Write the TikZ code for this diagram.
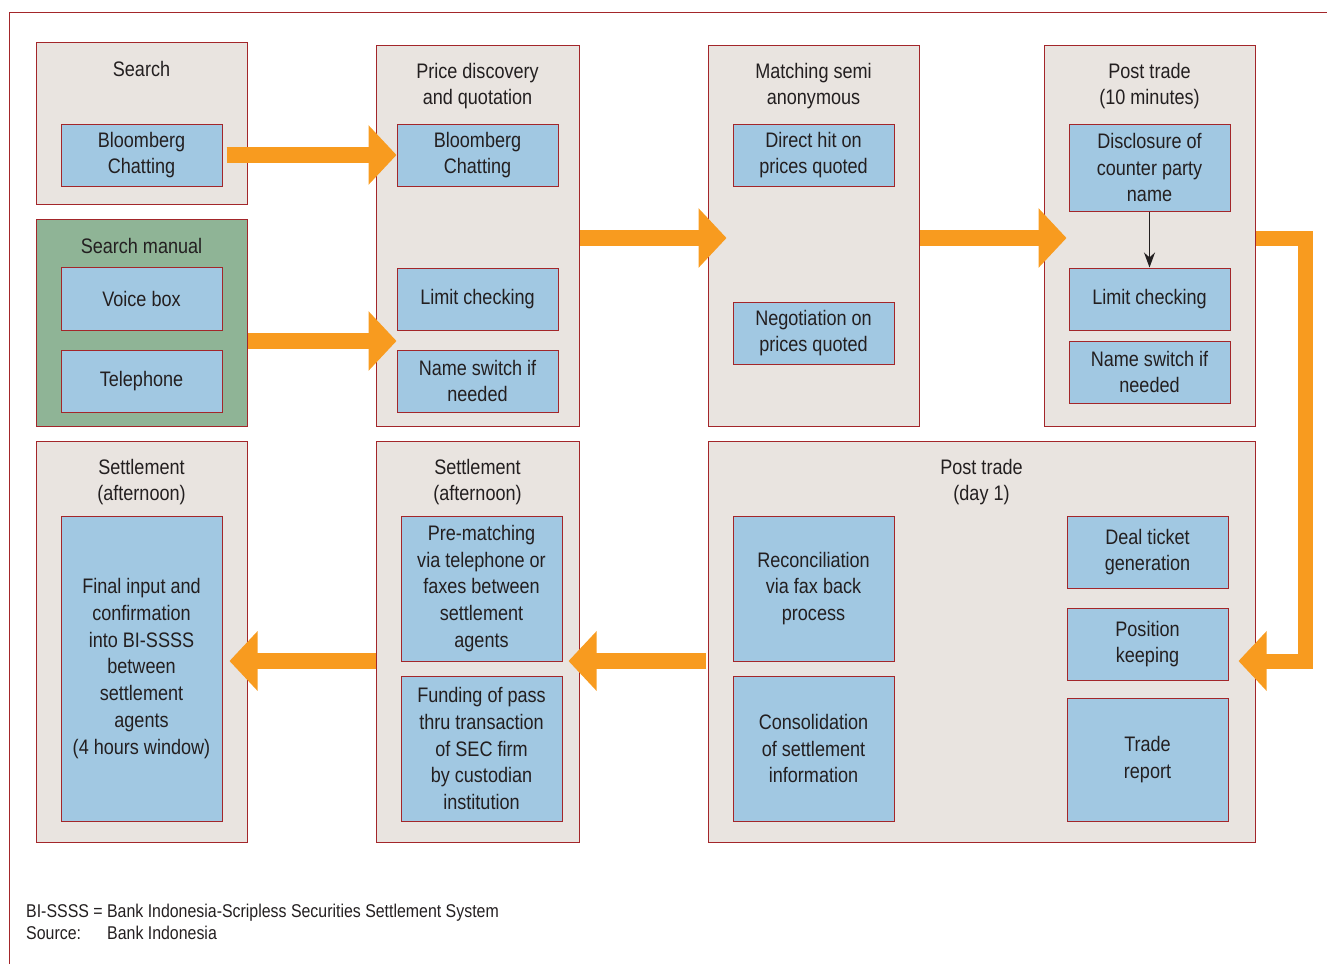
\documentclass[tikz,border=0pt]{standalone}
\usepackage{fontspec}
\setmainfont{Liberation Sans}[FakeStretch=0.86]
\usetikzlibrary{arrows.meta}

\definecolor{frame}{HTML}{A3262A}
\definecolor{beige}{HTML}{E9E4E0}
\definecolor{skyblue}{HTML}{A1C8E2}
\definecolor{sage}{HTML}{8FB496}
\definecolor{flow}{HTML}{F89B1F}
\definecolor{ink}{HTML}{231F20}

\tikzset{
  stage/.style={draw=frame, fill=beige, line width=1pt, anchor=north west, inner sep=0pt},
  task/.style={draw=frame, fill=skyblue, line width=1pt, minimum width=161pt, align=center,
    text=ink, inner sep=0pt, font=\fontsize{21}{26.8}\selectfont},
  title/.style={align=center, text=ink, font=\fontsize{21}{26.8}\selectfont},
  bigarrow/.style={flow, line width=16pt, -{Triangle[width=58pt,length=28pt]}},
  note/.style={anchor=base west, text=ink, inner sep=0pt, font=\fontsize{18.5}{22}\selectfont},
}

\begin{document}
\begin{tikzpicture}[x=1pt, y=-1pt]
  \useasboundingbox (0,0) rectangle (1327,964);
  \draw[frame, line width=1pt] (9,964) -- (9,12) -- (1327,12); % outer frame

  % stages
  \node[stage, minimum width=211pt, minimum height=162pt] (search) at (36,42) {};
  \node[stage, fill=sage, minimum width=211pt, minimum height=207pt] (manual) at (36,219) {};
  \node[stage, minimum width=203pt, minimum height=381pt] (price) at (376,45) {};
  \node[stage, minimum width=211pt, minimum height=381pt] (matching) at (708,45) {};
  \node[stage, minimum width=211pt, minimum height=381pt] (post10) at (1044,45) {};
  \node[stage, minimum width=211pt, minimum height=401pt] (setleft) at (36,441) {};
  \node[stage, minimum width=203pt, minimum height=401pt] (setmid) at (376,441) {};
  \node[stage, minimum width=547pt, minimum height=401pt] (day1) at (708,441) {};

  % titles
  \node[title] (tsearch) at (141.5,69) {Search};
  \node[title] (tmanual) at (141.5,246) {Search manual};
  \node[title] (tprice) at (477.5,86) {Price discovery\\and quotation};
  \node[title] (tmatching) at (813.5,86) {Matching semi\\anonymous};
  \node[title] (tpost10) at (1149.5,86) {Post trade\\(10 minutes)};
  \node[title] (tsetleft) at (141.5,482) {Settlement\\(afternoon)};
  \node[title] (tsetmid) at (477.5,482) {Settlement\\(afternoon)};
  \node[title] (tday1) at (981.5,482) {Post trade\\(day 1)};

  % tasks
  \node[task, minimum height=62pt] (sbc) at (141.5,155) {Bloomberg\\Chatting};
  \node[task, minimum height=63pt] (voice) at (141.5,298.5) {Voice box};
  \node[task, minimum height=62pt] (phone) at (141.5,381) {Telephone};
  \node[task, minimum height=62pt] (pbc) at (477.5,155) {Bloomberg\\Chatting};
  \node[task, minimum height=62pt] (plimit) at (477.5,299) {Limit checking};
  \node[task, minimum height=62pt] (pname) at (477.5,381) {Name switch if\\needed};
  \node[task, minimum height=62pt] (direct) at (813.5,155) {Direct hit on\\prices quoted};
  \node[task, minimum height=62pt] (nego) at (813.5,333) {Negotiation on\\prices quoted};
  \node[task, minimum height=87pt] (disclose) at (1149.5,167.5) {Disclosure of\\counter party\\name};
  \node[task, minimum height=62pt] (qlimit) at (1149.5,299) {Limit checking};
  \node[task, minimum height=62pt] (qname) at (1149.5,372) {Name switch if\\needed};
  \node[task, minimum height=305pt] (final) at (141.5,668.5) {Final input and\\confirmation\\into BI-SSSS\\between\\settlement\\agents\\(4 hours window)};
  \node[task, minimum height=145pt] (prematch) at (481.5,588.5) {Pre-matching\\via telephone or\\faxes between\\settlement\\agents};
  \node[task, minimum height=145pt] (funding) at (481.5,748.5) {Funding of pass\\thru transaction\\of SEC firm\\by custodian\\institution};
  \node[task, minimum height=145pt] (recon) at (813.5,588.5) {Reconciliation\\via fax back\\process};
  \node[task, minimum height=145pt] (consol) at (813.5,748.5) {Consolidation\\of settlement\\information};
  \node[task, minimum height=72pt] (ticket) at (1147.5,552) {Deal ticket\\generation};
  \node[task, minimum height=72pt] (position) at (1147.5,644) {Position\\keeping};
  \node[task, minimum height=123pt] (report) at (1147.5,759.5) {Trade\\report};

  % flow
  \coordinate (lvl2) at (0,341);
  \coordinate (r1) at (0,238);
  \coordinate (turn) at (1305.5,661);
  \draw[bigarrow, shorten <=4pt] (sbc.east) -- (pbc.west);
  \draw[bigarrow] (manual.east |- lvl2) -- (plimit.west |- lvl2);
  \draw[bigarrow, shorten >=6pt] (price.east |- r1) -- (direct.west |- r1);
  \draw[bigarrow, shorten >=2pt] (matching.east |- r1) -- (disclose.west |- r1);
  \draw[bigarrow, line width=15pt, shorten >=10pt] (post10.east |- r1) -| (turn) -- (position.east |- turn);
  \draw[bigarrow, shorten <=2pt, shorten >=6pt] (day1.west |- turn) -- (prematch.east |- turn);
  \draw[bigarrow, shorten >=7pt] (setmid.west |- turn) -- (final.east |- turn);
  \draw[ink, line width=1.2pt, -{Stealth[length=15pt,width=11pt]}] (disclose.south) -- (qlimit.north);

  % footnote
  \node[note] (abbr) at (26,917) {BI-SSSS = Bank Indonesia-Scripless Securities Settlement System};
  \node[note] (src) at (26,939) {Source:};
  \node[note] (srcname) at (107,939) {Bank Indonesia};
\end{tikzpicture}
\end{document}
